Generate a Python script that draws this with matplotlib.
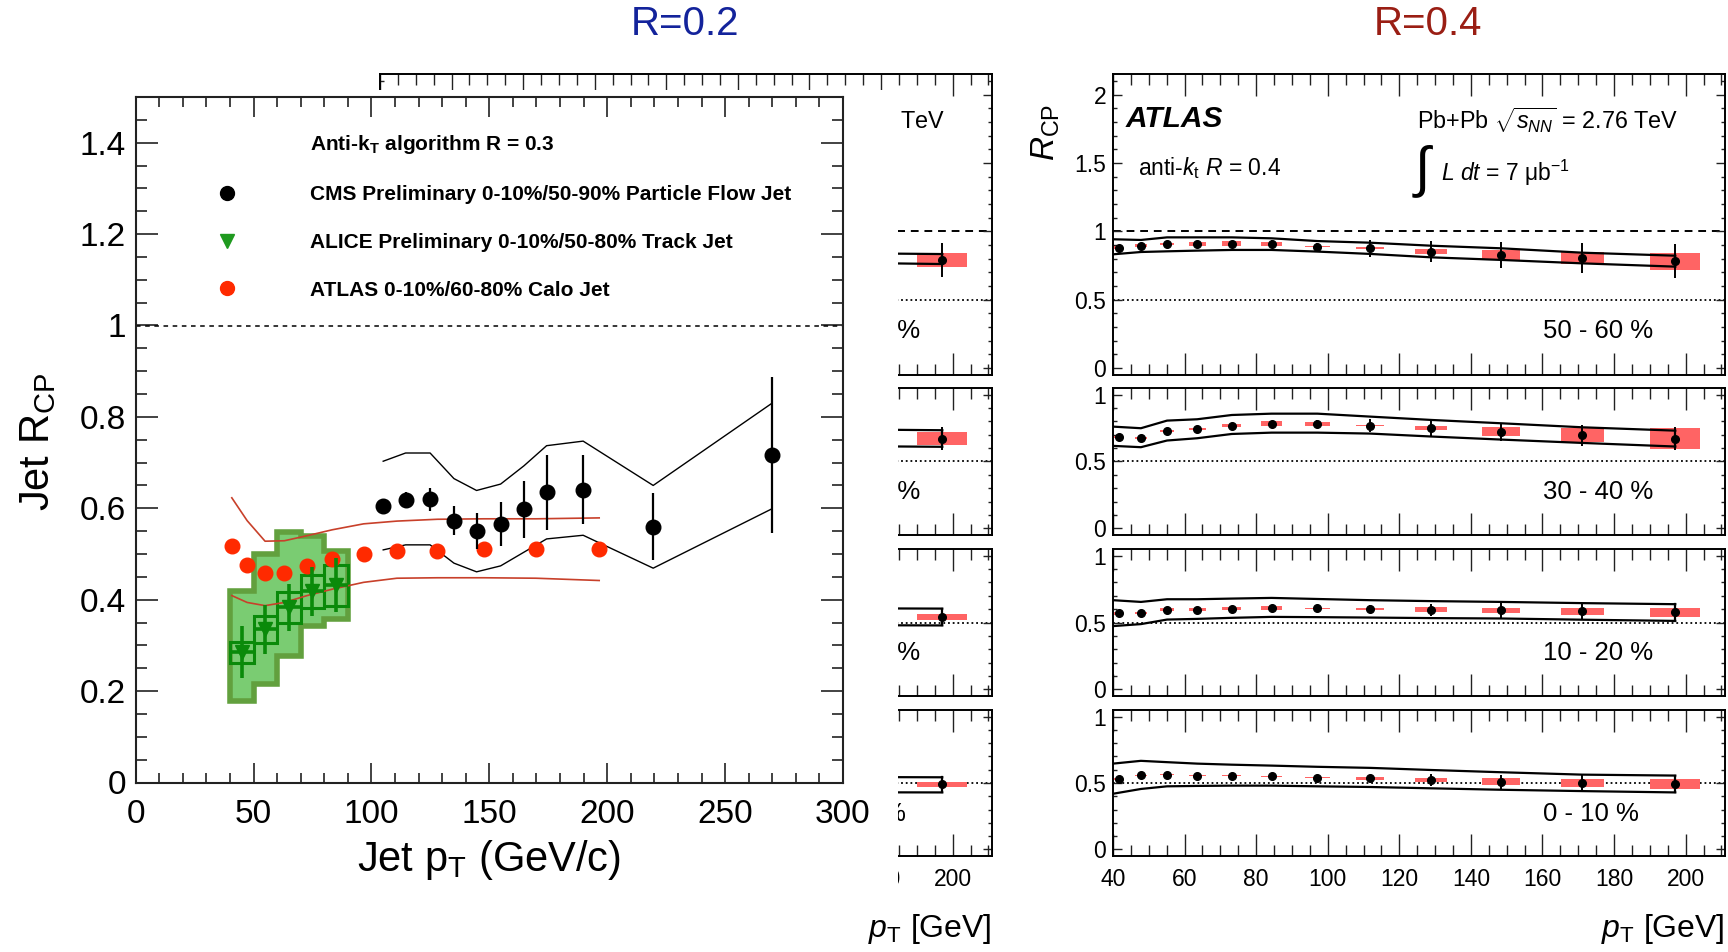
import numpy as np
import matplotlib
matplotlib.use("Agg")
import matplotlib.pyplot as plt
from matplotlib.patches import Rectangle, Polygon
from matplotlib.lines import Line2D
from matplotlib.ticker import MultipleLocator, FuncFormatter

plt.rcParams['font.family'] = ['Liberation Sans', 'DejaVu Sans']
plt.rcParams['mathtext.fontset'] = 'custom'
plt.rcParams['mathtext.rm'] = 'Liberation Sans'
plt.rcParams['mathtext.it'] = 'Liberation Sans:italic'
plt.rcParams['mathtext.bf'] = 'Liberation Sans:bold'
plt.rcParams['mathtext.default'] = 'regular'

# ---------------- CMS / ALICE / ATLAS comparison (R = 0.3) ----------------
CMS_PT = [105, 114.5, 124.9, 135, 144.6, 154.8, 164.7, 174.3, 189.8, 219.5, 269.9]
CMS_RCP = [0.606, 0.618, 0.620, 0.573, 0.550, 0.566, 0.598, 0.635, 0.641, 0.560, 0.717]
CMS_STAT = [0.015, 0.017, 0.025, 0.032, 0.039, 0.048, 0.062, 0.082, 0.075, 0.074, 0.17]
CMS_SYS_UP = [0.703, 0.721, 0.721, 0.665, 0.639, 0.653, 0.693, 0.737, 0.747, 0.650, 0.830]
CMS_SYS_LO = [0.509, 0.520, 0.520, 0.480, 0.461, 0.474, 0.504, 0.533, 0.541, 0.469, 0.599]

CALO_PT = [40.8, 47.3, 54.9, 63.1, 72.7, 83.4, 96.7, 110.8, 128.0, 147.7, 169.8, 196.6]
CALO_RCP = [0.517, 0.477, 0.458, 0.458, 0.474, 0.490, 0.501, 0.506, 0.506, 0.511, 0.511, 0.511]
CALO_SYS_UP = [0.623, 0.573, 0.528, 0.529, 0.540, 0.553, 0.566, 0.572, 0.576, 0.577, 0.577, 0.579]
CALO_SYS_LO = [0.409, 0.394, 0.387, 0.394, 0.409, 0.423, 0.438, 0.447, 0.448, 0.448, 0.447, 0.442]

ALICE_PT = [45, 55, 65, 75, 85]
ALICE_HALF_BIN = [5, 5, 5, 5, 5]
ALICE_RCP = [0.285, 0.335, 0.383, 0.418, 0.432]
ALICE_STAT = [0.057, 0.053, 0.052, 0.053, 0.06]
ALICE_SYS = [0.023, 0.029, 0.034, 0.036, 0.045]
ALICE_BIN_EDGES = [40, 50, 60, 70, 80, 90]
ALICE_BAND_UP = [0.418, 0.500, 0.549, 0.539, 0.507]
ALICE_BAND_LO = [0.179, 0.215, 0.277, 0.343, 0.358]

LEGEND_LABELS = [r'Anti-k$_{\mathbf{T}}$ algorithm R = 0.3',
                 'CMS Preliminary 0-10%/50-90% Particle Flow Jet',
                 'ALICE Preliminary 0-10%/50-80% Track Jet',
                 'ATLAS 0-10%/60-80% Calo Jet']

# ---------------- ATLAS R_CP panels ----------------
CENTRALITY = ['50 - 60 %', '30 - 40 %', '10 - 20 %', '0 - 10 %']

PT_R04 = [41.6, 47.8, 55.1, 63.5, 73.2, 84.3, 97.1, 111.8, 128.9, 148.5, 171.1, 197.1]
ENV_PT_R04 = [40.0, 47.8, 55.1, 63.5, 73.2, 84.3, 97.1, 111.8, 128.9, 148.5, 171.1, 197.1]
BOX_HW_R04 = [1.25, 1.6, 2.0, 2.35, 2.65, 3.05, 3.45, 3.95, 4.5, 5.3, 6.05, 7.05]

RCP_R04_5060 = [0.881, 0.895, 0.908, 0.908, 0.910, 0.908, 0.888, 0.876, 0.852, 0.827, 0.803, 0.783]
STAT_R04_5060 = [0.015, 0.015, 0.015, 0.018, 0.022, 0.027, 0.03, 0.06, 0.078, 0.092, 0.11, 0.125]
SYS_R04_5060 = [0.013, 0.01, 0.01, 0.012, 0.016, 0.013, 0.003, 0.007, 0.02, 0.034, 0.044, 0.062]
UP_R04_5060 = [0.942, 0.937, 0.956, 0.956, 0.956, 0.949, 0.929, 0.917, 0.895, 0.876, 0.844, 0.822]
LO_R04_5060 = [0.832, 0.849, 0.854, 0.859, 0.864, 0.864, 0.852, 0.835, 0.810, 0.791, 0.766, 0.742]

RCP_R04_3040 = [0.682, 0.677, 0.726, 0.741, 0.769, 0.781, 0.779, 0.769, 0.749, 0.724, 0.697, 0.672]
STAT_R04_3040 = [0.015, 0.015, 0.015, 0.018, 0.02, 0.022, 0.03, 0.047, 0.062, 0.067, 0.078, 0.088]
SYS_R04_3040 = [0.008, 0.007, 0.007, 0.008, 0.014, 0.019, 0.014, 0.003, 0.015, 0.035, 0.052, 0.078]
UP_R04_3040 = [0.761, 0.749, 0.806, 0.816, 0.848, 0.858, 0.858, 0.836, 0.811, 0.786, 0.756, 0.731]
LO_R04_3040 = [0.617, 0.607, 0.657, 0.674, 0.706, 0.716, 0.716, 0.709, 0.687, 0.664, 0.639, 0.612]

RCP_R04_1020 = [0.570, 0.570, 0.597, 0.597, 0.604, 0.612, 0.607, 0.602, 0.597, 0.590, 0.585, 0.575]
STAT_R04_1020 = [0.012, 0.012, 0.012, 0.014, 0.016, 0.018, 0.02, 0.03, 0.045, 0.058, 0.06, 0.052]
SYS_R04_1020 = [0.012, 0.008, 0.012, 0.011, 0.014, 0.015, 0.003, 0.009, 0.016, 0.019, 0.026, 0.032]
UP_R04_1020 = [0.667, 0.654, 0.674, 0.674, 0.679, 0.684, 0.676, 0.667, 0.660, 0.654, 0.645, 0.637]
LO_R04_1020 = [0.473, 0.488, 0.522, 0.527, 0.535, 0.542, 0.540, 0.537, 0.533, 0.530, 0.521, 0.512]

RCP_R04_0010 = [0.530, 0.558, 0.563, 0.556, 0.553, 0.551, 0.540, 0.535, 0.523, 0.510, 0.500, 0.490]
STAT_R04_0010 = [0.012, 0.012, 0.012, 0.012, 0.012, 0.014, 0.016, 0.022, 0.042, 0.054, 0.06, 0.058]
SYS_R04_0010 = [0.01, 0.006, 0.006, 0.006, 0.004, 0.004, 0.006, 0.009, 0.018, 0.024, 0.029, 0.037]
UP_R04_0010 = [0.646, 0.667, 0.657, 0.646, 0.638, 0.631, 0.622, 0.614, 0.598, 0.581, 0.563, 0.556]
LO_R04_0010 = [0.419, 0.455, 0.475, 0.478, 0.480, 0.480, 0.475, 0.470, 0.460, 0.449, 0.439, 0.429]

# R = 0.2: only the high-pT end is visible behind the overlaid figure
PT_R02 = [171.1, 197.1]
BOX_HW_R02 = [6.05, 7.05]
RCP_R02_5060 = [0.80, 0.79]
STAT_R02_5060 = [0.11, 0.126]
SYS_R02_5060 = [0.045, 0.051]
UP_R02_5060 = [0.84, 0.834]
LO_R02_5060 = [0.77, 0.761]
RCP_R02_3040 = [0.68, 0.672]
STAT_R02_3040 = [0.08, 0.086]
SYS_R02_3040 = [0.05, 0.052]
UP_R02_3040 = [0.74, 0.734]
LO_R02_3040 = [0.615, 0.61]
RCP_R02_1020 = [0.55, 0.542]
STAT_R02_1020 = [0.04, 0.03]
SYS_R02_1020 = [0.02, 0.021]
UP_R02_1020 = [0.606, 0.604]
LO_R02_1020 = [0.48, 0.478]
RCP_R02_0010 = [0.50, 0.490]
STAT_R02_0010 = [0.03, 0.025]
SYS_R02_0010 = [0.02, 0.021]
UP_R02_0010 = [0.545, 0.543]
LO_R02_0010 = [0.43, 0.429]

RED_BOX = '#ff6464'
W, H = 1728, 952


def fx(px):
    return px / W


def fy(px):
    return 1 - px / H


gformat = FuncFormatter(lambda v, pos: '%g' % round(v, 3))


def style_atlas(ax, tall, show_x, show_y):
    ax.set_xlim(40, 211)
    if tall:
        ax.set_ylim(-0.05, 2.15)
    else:
        ax.set_ylim(-0.05, 1.05)
    ax.xaxis.set_major_locator(MultipleLocator(20))
    ax.xaxis.set_minor_locator(MultipleLocator(5))
    ax.yaxis.set_major_locator(MultipleLocator(0.5))
    ax.yaxis.set_minor_locator(MultipleLocator(0.1))
    ax.yaxis.set_major_formatter(gformat)
    ax.tick_params(which='both', direction='in', top=True, right=True,
                   labelsize=16.5, width=1.0, color='#222222')
    ax.tick_params(axis='x', which='major', length=16, pad=9)
    ax.tick_params(axis='x', which='minor', length=8)
    ax.tick_params(axis='y', which='major', length=6.5, pad=5)
    ax.tick_params(axis='y', which='minor', length=3.2)
    if not show_x:
        ax.tick_params(axis='x', labelbottom=False)
    if not show_y:
        ax.tick_params(axis='y', labelleft=False)
    for s in ax.spines.values():
        s.set_linewidth(1.4)


def draw_atlas(ax, pt, env_pt, hw, rcp, stat, sys, up, lo):
    for x, w, y, s in zip(pt, hw, rcp, sys):
        s = max(s, 0.004)
        ax.add_patch(Rectangle((x - w, y - s), 2 * w, 2 * s, facecolor=RED_BOX,
                               edgecolor='none', zorder=2))
    ax.plot(env_pt, up, color='k', lw=1.6, zorder=3)
    ax.plot(env_pt, lo, color='k', lw=1.6, zorder=3)
    ax.plot([env_pt[-1], env_pt[-1]], [lo[-1], up[-1]], color='k', lw=1.6, zorder=3)
    ax.errorbar(pt, rcp, yerr=stat, fmt='o', color='k', ms=5.5, lw=1.4,
                capsize=0, zorder=4)


def atlas_column(left, pt, env_pt, hw, panels, show_y=True):
    tops = [74, 388, 549, 710]
    bottoms = [375, 535, 696, 856]
    axes = []
    for i, (t, b) in enumerate(zip(tops, bottoms)):
        ax = fig.add_axes([fx(left), fy(b), fx(612), (b - t) / H])
        style_atlas(ax, i == 0, i == 3, show_y)
        ax.axhline(0.5, color='k', lw=1.3, ls=(0, (1, 1.6)), zorder=1)
        if i == 0:
            ax.axhline(1.0, color='k', lw=1.4, ls=(0, (4, 3)), zorder=1)
        rcp, stat, sys, up, lo = panels[i]
        draw_atlas(ax, pt, env_pt, hw, rcp, stat, sys, up, lo)
        ytxt = 0.146 if i == 0 else 0.29
        ax.text(0.703, ytxt, CENTRALITY[i], transform=ax.transAxes,
                fontsize=18.5, va='center', ha='left')
        axes.append(ax)
    a0 = axes[0]
    a0.text(0.021, 0.85, 'ATLAS', transform=a0.transAxes, fontsize=21.5,
            fontweight='bold', fontstyle='italic', va='center')
    a0.text(0.041, 0.688, r'anti-$\mathit{k}_{\rm t}$ $\mathit{R}$ = 0.4',
            transform=a0.transAxes, fontsize=16.5, va='center')
    a0.text(0.497, 0.847, r'Pb+Pb $\sqrt{\mathit{s}_{\mathit{NN}}}$ = 2.76 TeV',
            transform=a0.transAxes, fontsize=16.8, va='center')
    a0.text(0.489, 0.675, r'$\int$', transform=a0.transAxes, fontsize=40,
            va='center')
    a0.text(0.536, 0.671, r'$\mathit{L\ dt}$ = 7 $\mu$b$^{-1}$',
            transform=a0.transAxes, fontsize=16.5, va='center')
    if show_y:
        a0.text(-0.11, 0.9, r'$\mathit{R}_{\rm CP}$', transform=a0.transAxes,
                fontsize=24, rotation=90, ha='center', va='top')
    a3 = axes[3]
    a3.text(1.0, -0.5, r'$\mathit{p}_{\rm T}$ [GeV]', transform=a3.transAxes,
            fontsize=23, ha='right', va='center')
    return axes


fig = plt.figure(figsize=(W / 100, H / 100), dpi=100)
fig.patch.set_facecolor('white')

fig.text(fx(685), fy(24), 'R=0.2', color='#13239b', fontsize=29,
         ha='center', va='center')
fig.text(fx(1428), fy(24), 'R=0.4', color='#9a1e14', fontsize=29,
         ha='center', va='center')

panels_r02 = [
    (RCP_R02_5060, STAT_R02_5060, SYS_R02_5060, UP_R02_5060, LO_R02_5060),
    (RCP_R02_3040, STAT_R02_3040, SYS_R02_3040, UP_R02_3040, LO_R02_3040),
    (RCP_R02_1020, STAT_R02_1020, SYS_R02_1020, UP_R02_1020, LO_R02_1020),
    (RCP_R02_0010, STAT_R02_0010, SYS_R02_0010, UP_R02_0010, LO_R02_0010),
]
panels_r04 = [
    (RCP_R04_5060, STAT_R04_5060, SYS_R04_5060, UP_R04_5060, LO_R04_5060),
    (RCP_R04_3040, STAT_R04_3040, SYS_R04_3040, UP_R04_3040, LO_R04_3040),
    (RCP_R04_1020, STAT_R04_1020, SYS_R04_1020, UP_R04_1020, LO_R04_1020),
    (RCP_R04_0010, STAT_R04_0010, SYS_R04_0010, UP_R04_0010, LO_R04_0010),
]
atlas_column(380, PT_R02, PT_R02, BOX_HW_R02, panels_r02, show_y=False)
atlas_column(1113, PT_R04, ENV_PT_R04, BOX_HW_R04, panels_r04)

# the CMS figure pasted on top hides most of the R=0.2 column
fig.add_artist(Rectangle((0, fy(895)), fx(898), 805 / H, transform=fig.transFigure,
                         facecolor='white', edgecolor='none', zorder=2))

ax = fig.add_axes([fx(135.6), fy(782.5), fx(707.4), 685.5 / H])
ax.set_zorder(3)
ax.set_xlim(0, 300)
ax.set_ylim(0, 1.5)
ax.xaxis.set_major_locator(MultipleLocator(50))
ax.xaxis.set_minor_locator(MultipleLocator(10))
ax.yaxis.set_major_locator(MultipleLocator(0.2))
ax.yaxis.set_minor_locator(MultipleLocator(0.05))
ax.yaxis.set_major_formatter(gformat)
ax.tick_params(which='both', direction='in', top=True, right=True,
               labelsize=24, width=1.2, color='#222222')
ax.tick_params(axis='x', which='major', length=14.4, pad=12)
ax.tick_params(axis='x', which='minor', length=7.2)
ax.tick_params(axis='y', which='major', length=16, pad=7)
ax.tick_params(axis='y', which='minor', length=8)
for s in ax.spines.values():
    s.set_linewidth(1.5)
    s.set_color('#222222')

ax.axhline(1.0, color='k', lw=1.1, ls=(0, (3, 3)))

# ALICE correlated systematic band
xs = np.repeat(ALICE_BIN_EDGES, 2)[1:-1]
ys_up = np.repeat(ALICE_BAND_UP, 2)
ys_lo = np.repeat(ALICE_BAND_LO, 2)
verts = list(zip(xs, ys_up)) + list(zip(xs[::-1], ys_lo[::-1]))
ax.add_patch(Polygon(verts, closed=True, facecolor='#7acc72', edgecolor='#62a03e',
                     lw=4, joinstyle='miter', zorder=1))
for x, w, y, s in zip(ALICE_PT, ALICE_HALF_BIN, ALICE_RCP, ALICE_SYS):
    ax.add_patch(Rectangle((x - w, y - s), 2 * w, 2 * s, facecolor='none',
                           edgecolor='#0a8a0a', lw=2.2, zorder=2))

ax.plot(CMS_PT, CMS_SYS_UP, color='k', lw=1.0, zorder=3)
ax.plot(CMS_PT, CMS_SYS_LO, color='k', lw=1.0, zorder=3)
ax.plot(CALO_PT, CALO_SYS_UP, color='#c8402a', lw=1.2, zorder=3)
ax.plot(CALO_PT, CALO_SYS_LO, color='#c8402a', lw=1.2, zorder=3)

ax.plot(CALO_PT, CALO_RCP, 'o', color='#ff2a00', ms=10.5, zorder=4)
ax.errorbar(CMS_PT, CMS_RCP, yerr=CMS_STAT, fmt='o', color='k', ms=10.5,
            lw=1.6, capsize=0, zorder=5)
ax.errorbar(ALICE_PT, ALICE_RCP, xerr=ALICE_HALF_BIN, yerr=ALICE_STAT, fmt='v',
            color='#0a8a0a', ms=10, lw=2.6, capsize=0, zorder=6)

handles = [Line2D([], [], ls='none'),
           Line2D([], [], ls='none', marker='o', color='k', ms=10),
           Line2D([], [], ls='none', marker='v', color='#1f9a1f', ms=10),
           Line2D([], [], ls='none', marker='o', color='#ff2a00', ms=10)]
ax.legend(handles, LEGEND_LABELS, loc='upper left', bbox_to_anchor=(0.1145, 0.947),
          frameon=False, prop={'weight': 'bold', 'size': 15}, handlelength=1.0,
          handletextpad=3.5, labelspacing=1.38, borderpad=0, borderaxespad=0)

ax.text(-0.138, 0.497, r'Jet R$_{CP}$', transform=ax.transAxes, fontsize=30,
        rotation=90, ha='center', va='center')
ax.text(0.5, -0.113, r'Jet p$_{T}$ (GeV/c)', transform=ax.transAxes, fontsize=30,
        ha='center', va='center')

fig.savefig('out.png', dpi=100, facecolor='white')
